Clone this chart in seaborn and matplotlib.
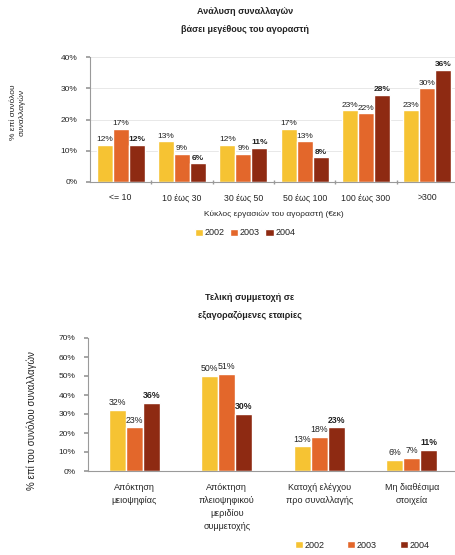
import matplotlib
matplotlib.use("Agg")
import matplotlib.pyplot as plt
import seaborn as sns
import pandas as pd
import numpy as np
from matplotlib.patches import Patch

# ---- data ----
years = ["2002", "2003", "2004"]
colors = ["#F6C333", "#E3672B", "#8E2A12"]

top_categories = ["<= 10", "10 έως 30", "30 έως 50", "50 έως 100", "100 έως 300", ">300"]
top_2002 = [12, 13, 12, 17, 23, 23]
top_2003 = [17, 9, 9, 13, 22, 30]
top_2004 = [12, 6, 11, 8, 28, 36]
top_yticks = [0, 10, 20, 30, 40]

bot_categories = ["Απόκτηση\nμειοψηφίας",
                  "Απόκτηση\nπλειοψηφικού\nμεριδίου\nσυμμετοχής",
                  "Κατοχή ελέγχου\nπρο συναλλαγής",
                  "Μη διαθέσιμα\nστοιχεία"]
bot_2002 = [32, 50, 13, 6]
bot_2003 = [23, 51, 18, 7]
bot_2004 = [36, 30, 23, 11]
bot_yticks = [0, 10, 20, 30, 40, 50, 60, 70]

def long_df(cats, series):
    rows = []
    for y, vals in zip(years, series):
        for c, v in zip(cats, vals):
            rows.append({"cat": c, "year": y, "val": v})
    return pd.DataFrame(rows)

df_top = long_df(top_categories, [top_2002, top_2003, top_2004])
df_bot = long_df(bot_categories, [bot_2002, bot_2003, bot_2004])

sns.set_theme(style="white")
plt.rcParams["font.family"] = ["Liberation Sans", "DejaVu Sans"]
plt.rcParams["text.color"] = "#222222"

fig = plt.figure(figsize=(4.56, 5.55), dpi=100)
W, H = 456, 555

def axes_px(left, top, right, bottom):
    return fig.add_axes([left / W, 1 - bottom / H, (right - left) / W, (bottom - top) / H])

pal = dict(zip(years, colors))
spine_c = "#9a9a9a"

# ---- top chart ----
ax1 = axes_px(90, 57, 458, 182)
sns.barplot(data=df_top, x="cat", y="val", hue="year", palette=pal, order=top_categories,
            hue_order=years, width=0.78, saturation=1, ax=ax1, legend=False)
ax1.set_ylim(0, 40)
ax1.set_xlim(-0.5, len(top_categories) - 0.5)
ax1.set_yticks(top_yticks)
ax1.set_yticklabels([f"{t}%" for t in top_yticks], fontsize=6)
ax1.set_xticks(range(len(top_categories)))
ax1.set_xticklabels(top_categories, fontsize=6.3)
ax1.set_xticks(np.arange(0.5, len(top_categories) - 1, 1.0), minor=True)
ax1.tick_params(axis="x", which="major", length=0, pad=8)
ax1.tick_params(axis="x", which="minor", length=3, direction="inout", color=spine_c, bottom=True)
ax1.tick_params(axis="y", length=3, direction="out", color=spine_c, left=True, pad=6)
ax1.yaxis.grid(True, color="#e4e4e4", linewidth=0.6)
ax1.set_axisbelow(True)
for s in ["top", "right"]:
    ax1.spines[s].set_visible(False)
for s in ["left", "bottom"]:
    ax1.spines[s].set_color(spine_c)
    ax1.spines[s].set_linewidth(0.8)
ax1.set_xlabel("Κύκλος εργασιών του αγοραστή (€εκ)", fontsize=6, labelpad=6)
ax1.set_ylabel("")
for i, cont in enumerate(ax1.containers):
    ax1.bar_label(cont, fmt="%d%%", fontsize=6, padding=1,
                  fontweight="bold" if i == 2 else "normal")
fig.text(18 / W, 1 - 112 / H, "% επί συνόλου\nσυναλλαγών", rotation=90, fontsize=6,
         ha="center", va="center", linespacing=1.3)
fig.text(245 / W, 1 - 12 / H, "Ανάλυση συναλλαγών", fontsize=6.5, fontweight="bold",
         ha="center", va="center")
fig.text(245 / W, 1 - 29 / H, "βάσει μεγέθους του αγοραστή", fontsize=6.5, fontweight="bold",
         ha="center", va="center")
handles = [Patch(facecolor=c, label=y) for y, c in zip(years, colors)]
fig.legend(handles=handles, loc="center", bbox_to_anchor=(245 / W, 1 - 233 / H), ncol=3,
           frameon=False, fontsize=6.5, handlelength=0.9, handleheight=0.9,
           handletextpad=0.2, columnspacing=0.6)

# ---- bottom chart ----
ax2 = axes_px(88, 338, 458, 471)
sns.barplot(data=df_bot, x="cat", y="val", hue="year", palette=pal, order=bot_categories,
            hue_order=years, width=0.55, saturation=1, ax=ax2, legend=False)
ax2.set_ylim(0, 70)
ax2.set_xlim(-0.5, len(bot_categories) - 0.5)
ax2.set_yticks(bot_yticks)
ax2.set_yticklabels([f"{t}%" for t in bot_yticks], fontsize=6)
ax2.set_xticks(range(len(bot_categories)))
ax2.set_xticklabels(bot_categories, fontsize=6.5, linespacing=1.55, va="top")
ax2.tick_params(axis="x", length=0, pad=9)
ax2.tick_params(axis="y", length=3, direction="out", color=spine_c, left=True, pad=6)
for s in ["top", "right"]:
    ax2.spines[s].set_visible(False)
for s in ["left", "bottom"]:
    ax2.spines[s].set_color(spine_c)
    ax2.spines[s].set_linewidth(0.8)
ax2.set_xlabel("")
ax2.set_ylabel("")
for i, cont in enumerate(ax2.containers):
    ax2.bar_label(cont, fmt="%d%%", fontsize=6.3, padding=2,
                  fontweight="bold" if i == 2 else "normal")
fig.text(32 / W, 1 - 421 / H, "% επί του συνόλου συναλλαγών", rotation=90, fontsize=7,
         ha="center", va="center")
fig.text(250 / W, 1 - 298 / H, "Τελική συμμετοχή σε", fontsize=6.5, fontweight="bold",
         ha="center", va="center")
fig.text(250 / W, 1 - 315 / H, "εξαγοραζόμενες εταιρίες", fontsize=6.5, fontweight="bold",
         ha="center", va="center")
fig.legend(handles=handles, loc="center", bbox_to_anchor=(362 / W, 1 - 545 / H), ncol=3,
           frameon=False, fontsize=6.5, handlelength=0.9, handleheight=0.9,
           handletextpad=0.2, columnspacing=2.5)

fig.savefig("out.png", dpi=100, facecolor="white")
